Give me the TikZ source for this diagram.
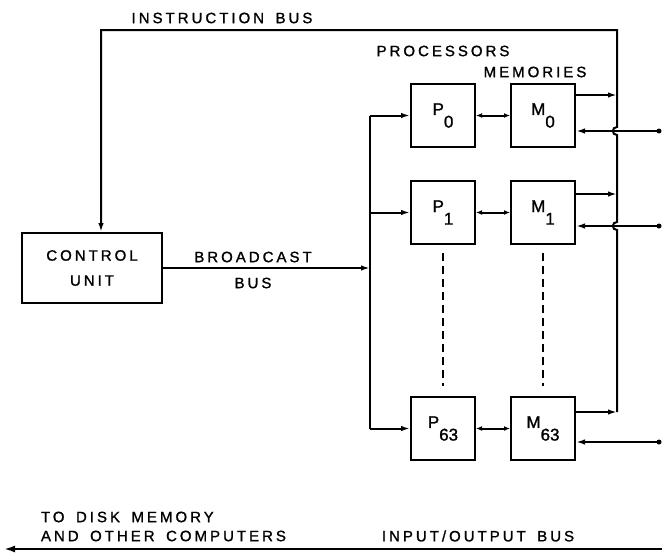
\documentclass[tikz,border=0pt]{standalone}
\usepackage{fontspec}
\setmainfont{Liberation Sans}[LetterSpace=20,FakeBold=1.3,WordSpace=1.6]
\newfontfamily\boxfont{Liberation Sans}[FakeBold=1.3]
\usetikzlibrary{arrows.meta,positioning}

% letter with a lowered index, as in the lettering
\newcommand{\lowidx}[2]{#1\raisebox{-1.4ex}{#2}}

\begin{document}
\begin{tikzpicture}[
    x=1pt, y=-1pt,
    >={Latex[length=9pt,width=5.5pt]},
    node distance=34pt,
    line width=2pt,
    box/.style={rectangle,draw,line width=2pt,minimum width=64pt,minimum height=63pt,
                inner sep=0pt,font=\boxfont\fontsize{17}{17}\selectfont},
    lbl/.style={inner sep=0pt,font=\fontsize{15}{25}\selectfont},
    hopdot/.style={fill,circle,inner sep=0pt,minimum size=5pt}
  ]
    \useasboundingbox (0,0) rectangle (662,557);

    % control unit and the processor / memory pairs
    \node (cu) [box,minimum width=140pt,minimum height=70pt,align=center,
                font=\fontsize{15}{25}\selectfont] at (92,268) {CONTROL\\UNIT};
    \node (p0) [box] at (443,115.5) {\lowidx{P}{0}};
    \node (m0) [box,right=of p0] {\lowidx{M}{0}};
    \node (p1) [box,below=32pt of p0] {\lowidx{P}{1}};
    \node (m1) [box,right=of p1] {\lowidx{M}{1}};
    \node (p63) [box,below=151pt of p1] {\lowidx{P}{63}};
    \node (m63) [box,right=of p63] {\lowidx{M}{63}};

    % labels
    \node (lins) [lbl] at (222,18) {INSTRUCTION BUS};
    \node (lproc) [lbl] at (443,51) {PROCESSORS};
    \node (lmem) [lbl] at (535,72) {MEMORIES};
    \node (lbc) [lbl] at (253,257) {BROADCAST};
    \node (lbcb) [lbl] at (253,283) {BUS};
    \node (ldisk) [lbl,anchor=west] at (40,517) {TO DISK MEMORY};
    \node (lcomp) [lbl,anchor=west] at (40,536) {AND OTHER COMPUTERS};
    \node (lio) [lbl] at (478,536) {INPUT/OUTPUT BUS};

    % bus points
    \coordinate (bc) at (370,268);
    \coordinate (o0) at (617,95);
    \coordinate (o1) at (617,194);
    \coordinate (o63) at (617,412);
    \coordinate (i0) at (659,131);
    \coordinate (i1) at (659,226);
    \coordinate (i63) at (659,442);
    \coordinate (ibtop) at (617,30);
    \coordinate (ibleft) at (101,30);
    \coordinate (ioR) at (662,549);
    \coordinate (ioL) at (4,549);

    % broadcast bus
    \draw[->] (cu.east) -- (cu.east -| bc);
    \draw (p0.west -| bc) -- (p63.west -| bc);
    \foreach \p in {p0,p1,p63}
      \draw[->] (\p.west -| bc) -- (\p.west);

    % processor <-> memory
    \draw[<->,>={Latex[length=6pt,width=5pt]}] (p0) -- (m0);
    \draw[<->,>={Latex[length=6pt,width=5pt]}] (p1) -- (m1);
    \draw[<->,>={Latex[length=6pt,width=5pt]}] (p63) -- (m63);

    % memory outputs and the instruction bus
    \draw[->] (m0.east |- o0) -- (o0);
    \draw[->] (m1.east |- o1) -- (o1);
    \draw[->] (m63.east |- o63) -- (o63);
    \draw[->] (o63) -- (617,230) .. controls +(-5.5,0) and +(-5.5,0) .. (617,222)
      -- (617,135) .. controls +(-5.5,0) and +(-5.5,0) .. (617,127)
      -- (ibtop) -- (ibleft) -- (ibleft |- cu.north);

    % memory inputs
    \foreach \i/\m in {i0/m0,i1/m1,i63/m63} {
      \draw[->] (\i) -- (\i -| \m.east);
      \node[hopdot] at (\i) {};
    }

    % dotted columns
    \draw[dash pattern=on 8pt off 5pt,shorten <=8pt,shorten >=10pt] (p1.south) -- (p63.north);
    \draw[dash pattern=on 8pt off 5pt,shorten <=8pt,shorten >=10pt] (m1.south) -- (m63.north);

    % input/output bus
    \draw[->,>={Latex[length=11pt,width=7pt]}] (ioR) -- (ioL);
\end{tikzpicture}
\end{document}
